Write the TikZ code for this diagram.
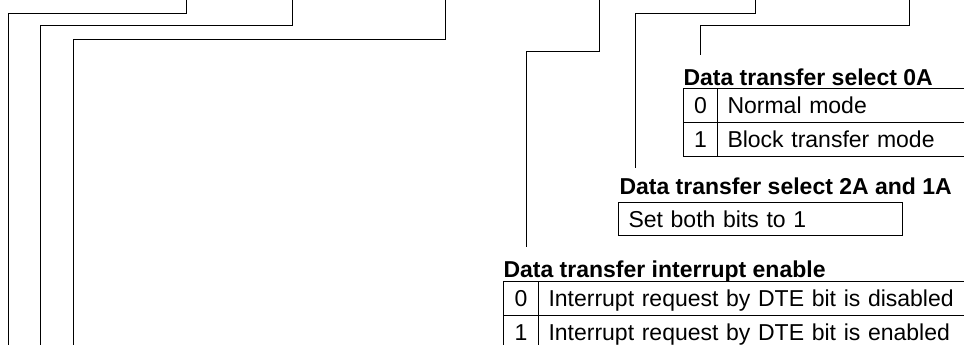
\documentclass[tikz,border=0pt]{standalone}
\usepackage{fontspec}
\setmainfont{Liberation Sans}
\begin{document}
\begin{tikzpicture}[x=1pt,y=-1pt,line width=1pt,
  every node/.style={font=\fontsize{23}{27}\selectfont},
  ttl/.style={anchor=base west,inner sep=0pt,font=\fontsize{23}{27}\selectfont\bfseries},
  cell/.style={draw,anchor=north west,minimum height=34,inner ysep=0pt,text height=16.5,text depth=0},
  numcell/.style={cell,inner xsep=0pt,minimum width=#1},
  txtcell/.style={cell,inner xsep=10pt,text width=#1,align=left}]
  \useasboundingbox (0,0) rectangle (964,345);
  \clip (0,0) rectangle (964,345);
  \coordinate (a0) at (186.7,0);  \coordinate (a1) at (8.5,350);
  \coordinate (b0) at (292.7,0);  \coordinate (b1) at (40,350);
  \coordinate (c0) at (445,0);    \coordinate (c1) at (73.3,350);
  \coordinate (d0) at (599.3,0);  \coordinate (d1) at (526,247);
  \coordinate (e0) at (755,0);    \coordinate (e1) at (635.7,168);
  \coordinate (f0) at (909.3,0);  \coordinate (f1) at (700.7,55);
  \draw (a0) -- ++(0,13.3) -| (a1);
  \draw (b0) -- ++(0,26) -| (b1);
  \draw (c0) -- ++(0,39.3) -| (c1);
  \draw (d0) -- ++(0,51.7) -| (d1);
  \draw (e0) -- ++(0,13.3) -| (e1);
  \draw (f0) -- ++(0,26) -| (f1);
  \node[ttl] (sel0) at (683,85) {Data transfer select 0A};
  \node[numcell=34] (sel0n0) at (683,88) {0};
  \node[txtcell=238] (sel0t0) at (717,88) {Normal mode};
  \node[numcell=34] (sel0n1) at (683,122) {1};
  \node[txtcell=238] (sel0t1) at (717,122) {Block transfer mode};
  \node[ttl] (sel21) at (619,194) {Data transfer select 2A and 1A};
  \node[txtcell=264,minimum height=33] (sel21t) at (618,202) {Set both bits to 1};
  \node[ttl] (dtie) at (503,277) {Data transfer interrupt enable};
  \node[numcell=35] (dtien0) at (503,281) {0};
  \node[txtcell=417] (dtiet0) at (538,281) {Interrupt request by DTE bit is disabled};
  \node[numcell=35] (dtien1) at (503,315) {1};
  \node[txtcell=417] (dtiet1) at (538,315) {Interrupt request by DTE bit is enabled};
\end{tikzpicture}
\end{document}
